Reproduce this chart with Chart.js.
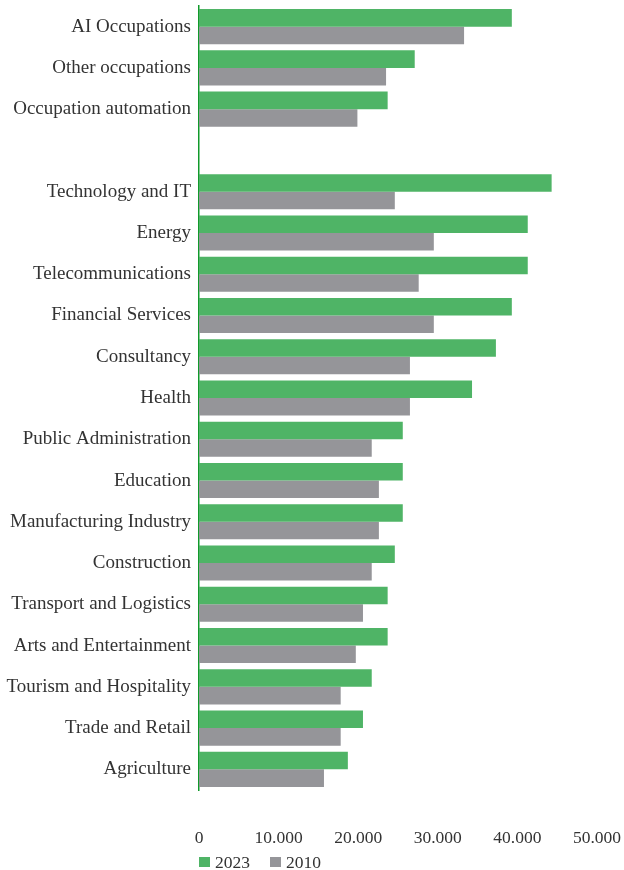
<!DOCTYPE html>
<html>
<head>
<meta charset="utf-8">
<script src="https://cdn.jsdelivr.net/npm/chart.js@4/dist/chart.umd.min.js"></script>
<style>
  html, body { margin: 0; padding: 0; background: #fff; }
  #wrap { position: relative; width: 624px; height: 870px; }
  #legend { position: absolute; left: 199px; top: 852px; display: flex; gap: 20px;
    font-family: 'Liberation Serif', serif; font-size: 17.5px; color: #333; line-height: 20px; }
  #legend span.item { display: flex; align-items: center; }
  #legend i { display: inline-block; width: 11px; height: 10px; margin-right: 5px; }
</style>
</head>
<body>
<div id="wrap">
  <canvas id="salaryChart" width="624" height="870"></canvas>
  <div id="legend"></div>
</div>
<script>
const categories = [
  'AI Occupations', 'Other occupations', 'Occupation automation', '',
  'Technology and IT', 'Energy', 'Telecommunications', 'Financial Services',
  'Consultancy', 'Health', 'Public Administration', 'Education',
  'Manufacturing Industry', 'Construction', 'Transport and Logistics',
  'Arts and Entertainment', 'Tourism and Hospitality', 'Trade and Retail', 'Agriculture'
];
const values2023 = [39300, 27100, 23700, null, 44300, 41300, 41300, 39300, 37300, 34300,
  25600, 25600, 25600, 24600, 23700, 23700, 21700, 20600, 18700];
const values2010 = [33300, 23500, 19900, null, 24600, 29500, 27600, 29500, 26500, 26500,
  21700, 22600, 22600, 21700, 20600, 19700, 17800, 17800, 15700];
const xTicks = [0, 10000, 20000, 30000, 40000, 50000];

const green = '#4fb466';
const grey = '#959599';
const serif = "'Liberation Serif', serif";

function fmt(v) {
  return String(v).replace(/\B(?=(\d{3})+(?!\d))/g, '.');
}

const ctx = document.getElementById('salaryChart');
new Chart(ctx, {
  type: 'bar',
  data: {
    labels: categories,
    datasets: [
      { label: '2023', data: values2023, backgroundColor: green, borderWidth: 0 },
      { label: '2010', data: values2010, backgroundColor: grey, borderWidth: 0 },
    ],
  },
  options: {
    indexAxis: 'y',
    responsive: false,
    maintainAspectRatio: false,
    animation: false,
    categoryPercentage: 0.85,
    barPercentage: 1.0,
    layout: { padding: { top: 6, right: 27, left: 0, bottom: 0 } },
    plugins: { legend: { display: false }, tooltip: { enabled: false } },
    scales: {
      x: {
        min: 0, max: 50000,
        afterBuildTicks: axis => { axis.ticks = xTicks.map(v => ({ value: v })); },
        afterFit: axis => {
          axis.height = 80;
          axis.paddingLeft = 0;
          axis.paddingRight = 0;
        },
        grid: { display: false, drawTicks: false },
        border: { display: false },
        ticks: { color: '#333', font: { family: serif, size: 17.5 }, padding: 38,
          callback: v => fmt(v) },
      },
      y: {
        afterFit: axis => {
          axis.width = 199;
          axis.paddingTop = 0;
          axis.paddingBottom = 0;
        },
        grid: { display: false, drawTicks: false },
        border: { display: true, color: '#109a2a', width: 1.5 },
        ticks: { color: '#333', font: { family: serif, size: 19 }, padding: 8, autoSkip: false },
      },
    },
  },
});

document.getElementById('legend').innerHTML = [['2023', green], ['2010', grey]]
  .map(([t, c]) => `<span class="item"><i style="background:${c}"></i>${t}</span>`).join('');
</script>
</body>
</html>
